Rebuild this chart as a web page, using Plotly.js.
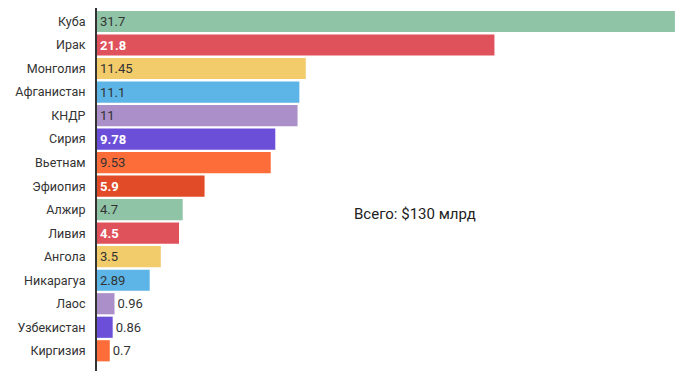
<!DOCTYPE html>
<html><head><meta charset="utf-8">
<script src="https://cdn.plot.ly/plotly-3.0.1.min.js"></script>
<style>html,body{margin:0;padding:0;background:#fff}#c{width:700px;height:371px}</style>
</head><body><div id="c"></div>
<script>
const countries = ["Куба","Ирак","Монголия","Афганистан","КНДР","Сирия","Вьетнам","Эфиопия","Алжир","Ливия","Ангола","Никарагуа","Лаос","Узбекистан","Киргизия"];
const values = [31.7,21.8,11.45,11.1,11,9.78,9.53,5.9,4.7,4.5,3.5,2.89,0.96,0.86,0.7];
const labels = ["31.7","21.8","11.45","11.1","11","9.78","9.53","5.9","4.7","4.5","3.5","2.89","0.96","0.86","0.7"];
const palette = ["#8fc4a6","#e0525b","#f2cb6b","#5cb5e6","#aa8fc8","#6b4fd9","#fd6d3a","#e24b27"];
const boldWhite = ["Ирак","Сирия","Эфиопия","Ливия"];
const outsideSet = ["Лаос","Узбекистан","Киргизия"];
const total = "Всего: $130 млрд";

const colors = countries.map((c,i)=>palette[i%palette.length]);
const text = countries.map((c,i)=> boldWhite.includes(c) ? "<b>"+labels[i]+"</b>" : labels[i]);
const tcol = countries.map(c=> boldWhite.includes(c) ? "#ffffff" : "#333333");
const tpos = countries.map(c=> outsideSet.includes(c) ? "outside" : "inside");

Plotly.newPlot("c",[{
  type:"bar", orientation:"h", x:values, y:countries,
  marker:{color:colors},
  text:text, textposition:tpos, insidetextanchor:"start",
  textfont:{family:"Roboto, sans-serif", size:13, color:tcol},
  outsidetextfont:{family:"Roboto, sans-serif", size:13, color:"#333333"},
  cliponaxis:false, hoverinfo:"none"
}],{
  width:700, height:371,
  margin:{l:97, r:1, t:8, b:0, pad:0},
  bargap:0.1,
  showlegend:false,
  paper_bgcolor:"#fff", plot_bgcolor:"#fff",
  font:{family:"Roboto, sans-serif", size:13, color:"#333"},
  xaxis:{range:[0,33.02], showgrid:false, zeroline:false, showticklabels:false, showline:false, fixedrange:true},
  yaxis:{type:"category", range:[14.86,-0.574], showgrid:false, zeroline:false,
         showline:true, linecolor:"#333", linewidth:2,
         ticks:"outside", ticklen:7, tickcolor:"rgba(0,0,0,0)",
         tickfont:{family:"Roboto, sans-serif", size:12.5, color:"#333"}},
  annotations:[{text:total, xref:"paper", yref:"paper", x:0.528, y:0.432, xanchor:"center", yanchor:"middle",
    showarrow:false, font:{family:"Roboto, sans-serif", size:15, color:"#222"}}]
},{staticPlot:true});
</script></body></html>
